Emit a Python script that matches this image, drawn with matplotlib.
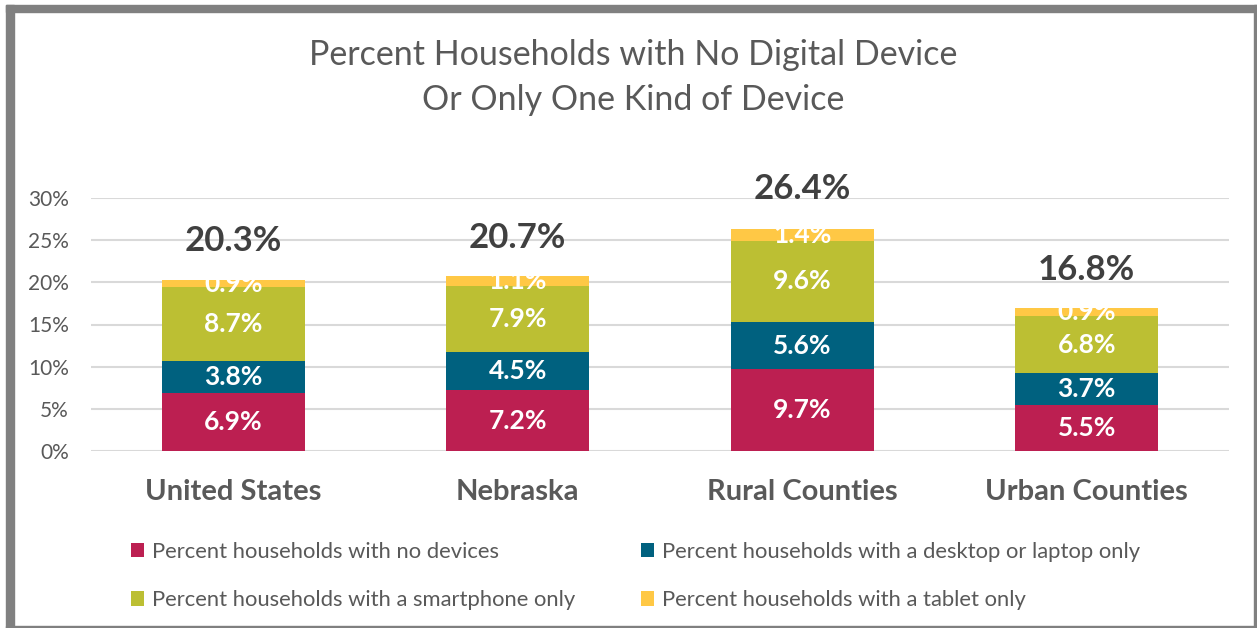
import matplotlib
matplotlib.use("Agg")
import matplotlib.pyplot as plt
from matplotlib.patches import Rectangle

categories = ["United States", "Nebraska", "Rural Counties", "Urban Counties"]
series_names = [
    "Percent households with no devices",
    "Percent households with a desktop or laptop only",
    "Percent households with a smartphone only",
    "Percent households with a tablet only",
]
no_devices = [6.9, 7.2, 9.7, 5.5]
desktop_only = [3.8, 4.5, 5.6, 3.7]
smartphone_only = [8.7, 7.9, 9.6, 6.8]
tablet_only = [0.9, 1.1, 1.4, 0.9]
totals = [20.3, 20.7, 26.4, 16.8]
yticks = [0, 5, 10, 15, 20, 25, 30]

colors = ["#BC1F51", "#00617F", "#BCBF33", "#FFC845"]
plt.rcParams['font.family'] = ['Lato', 'DejaVu Sans']

fig = plt.figure(figsize=(12.57, 6.28), dpi=100)
ax = fig.add_axes([91/1257, 177/628, 1138/1257, 253/628])

x = list(range(len(categories)))
bottom = [0.0] * len(categories)
series = [no_devices, desktop_only, smartphone_only, tablet_only]
for vals, col, name in zip(series, colors, series_names):
    ax.bar(x, vals, 0.503, bottom=bottom, color=col, label=name, zorder=3)
    for xi, b, v in zip(x, bottom, vals):
        ax.text(xi, b + v / 2, f"{v:.1f}%", ha="center", va="center",
                color="white", fontsize=19, fontweight="bold", zorder=4)
    bottom = [b + v for b, v in zip(bottom, vals)]

for xi, t in zip(x, totals):
    ax.annotate(f"{t:.1f}%", (xi, t), xytext=(0, 28), textcoords="offset points",
                ha="center", va="center", fontsize=25, fontweight="bold", color="#404040")

ax.set_xlim(-0.5, 3.5)
ax.set_ylim(0, 30)
ax.set_yticks(yticks)
ax.set_yticklabels([f"{v}%" for v in yticks], fontsize=15, color="#595959")
ax.set_xticks(x)
ax.set_xticklabels(categories, fontsize=21, fontweight="bold", color="#595959")
ax.tick_params(axis="both", length=0)
ax.tick_params(axis="x", pad=20)
ax.tick_params(axis="y", pad=16)
ax.grid(axis="y", color="#D9D9D9", linewidth=1.5, zorder=0)
for s in ax.spines.values():
    s.set_visible(False)

fig.text(633/1257, 1 - 55/628, "Percent Households with No Digital Device",
         ha="center", va="center", fontsize=24.5, color="#595959")
fig.text(633/1257, 1 - 100/628, "Or Only One Kind of Device",
         ha="center", va="center", fontsize=24.5, color="#595959")

handles, labels = ax.get_legend_handles_labels()
col_idx = [[0, 2], [1, 3]]
col_x = [122/1257, 632/1257]
for idx, cx in zip(col_idx, col_x):
    leg = fig.legend([handles[i] for i in idx], [labels[i] for i in idx], ncol=1,
                     loc="upper left", bbox_to_anchor=(cx, 1 - 533/628), frameon=False,
                     fontsize=15.8, handlelength=0.62, handleheight=0.62,
                     handletextpad=0.35, labelspacing=1.3, borderaxespad=0)
    for t in leg.get_texts():
        t.set_color("#595959")

# outer frame
fig.patches.append(Rectangle((6/1257, 0), 8/1257, 1 - 5/628, transform=fig.transFigure,
                             color="#808080", zorder=10))
fig.patches.append(Rectangle((6/1257, 1 - 12/628), 1 - 6/1257, 7/628, transform=fig.transFigure,
                             color="#808080", zorder=10))
fig.patches.append(Rectangle((1254/1257, 0), 3/1257, 1 - 5/628, transform=fig.transFigure,
                             color="#808080", zorder=10))
fig.patches.append(Rectangle((6/1257, 0), 1 - 6/1257, 2/628, transform=fig.transFigure,
                             color="#808080", zorder=10))

fig.savefig("out.png", dpi=100)
